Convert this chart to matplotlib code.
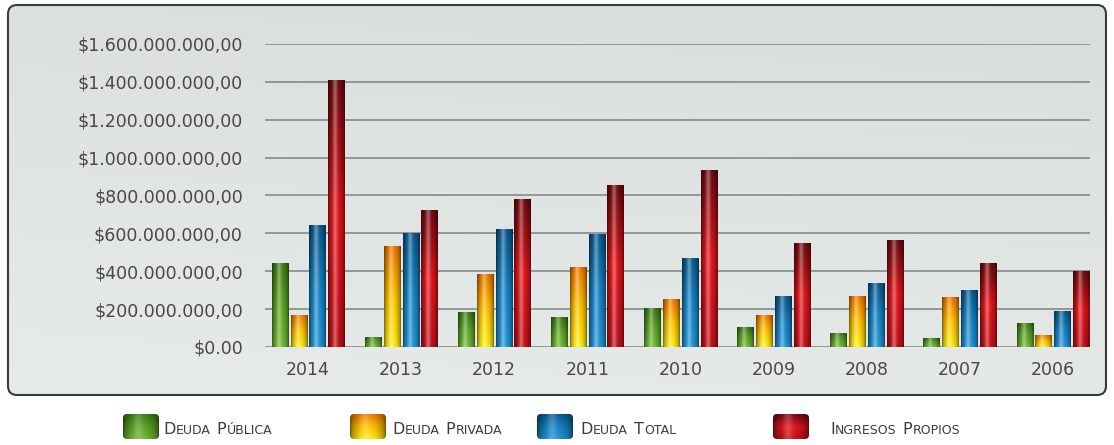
import numpy as np
import matplotlib
matplotlib.use("Agg")
import matplotlib.pyplot as plt
from matplotlib.patches import FancyBboxPatch
from matplotlib.colors import to_rgb
from matplotlib.ticker import FuncFormatter

years = ["2014", "2013", "2012", "2011", "2010", "2009", "2008", "2007", "2006"]
series_names = ["Deuda Pública", "Deuda Privada", "Deuda Total", "Ingresos Propios"]

deuda_publica = [443e6, 55e6, 185e6, 158e6, 206e6, 105e6, 74e6, 47e6, 127e6]
deuda_privada = [169e6, 533e6, 385e6, 422e6, 253e6, 169e6, 269e6, 264e6, 63e6]
deuda_total = [644e6, 602e6, 623e6, 596e6, 470e6, 269e6, 338e6, 301e6, 190e6]
ingresos_propios = [1409e6, 723e6, 781e6, 855e6, 934e6, 549e6, 565e6, 443e6, 401e6]

y_ticks = np.arange(0, 1.7e9, 2e8)

# colour stops per series, top -> middle -> bottom of a bar
stops = [
    ["#3d7a16", "#5ea326", "#72bb34"],
    ["#ee7800", "#ffc400", "#ffee10"],
    ["#0b5a8e", "#1683c4", "#2296d6"],
    ["#6e0b0f", "#e3151b", "#c2101a"],
]


def gradient_image(cols, rows=120, width=40, glow=0.35):
    cols = [np.array(to_rgb(c)) for c in cols]
    v = np.linspace(0, 1, rows)[:, None]
    top, mid, bot = cols
    vert = np.where(v < 0.5,
                    top * (1 - v / 0.5) + mid * (v / 0.5),
                    mid * (1 - (v - 0.5) / 0.5) + bot * ((v - 0.5) / 0.5))
    vert = vert.reshape(rows, 1, 3)
    u = np.linspace(0, 1, width)[None, :, None]
    shade = 0.45 + 0.55 * np.sin(np.pi * u) ** 0.6
    spec = glow * np.exp(-((u - 0.42) / 0.13) ** 2)
    img = vert * shade
    img = img + (1 - img) * spec
    return np.clip(img, 0, 1)


fig = plt.figure(figsize=(11.14, 4.45), dpi=100)

# background layer in pixel units
bg = fig.add_axes([0, 0, 1, 1])
bg.set_xlim(0, 1114)
bg.set_ylim(445, 0)
bg.axis("off")

panel = FancyBboxPatch((8, 5), 1098, 390, boxstyle="round,pad=0,rounding_size=9",
                       fc="#dde2e0", ec="none", zorder=1)
bg.add_patch(panel)
gx = np.linspace(0, 1, 200)[None, :]
gy = np.linspace(0, 1, 80)[:, None]
tone = 0.86 + 0.045 * gy - 0.01 * gx
panel_img = np.dstack([tone, tone + 0.018, tone + 0.01])
im = bg.imshow(np.clip(panel_img, 0, 1), extent=(8, 1106, 395, 5), aspect="auto",
               interpolation="bilinear", zorder=1.5)
im.set_clip_path(panel)
bg.add_patch(FancyBboxPatch((8, 5), 1098, 390, boxstyle="round,pad=0,rounding_size=9",
                            fc="none", ec="#3a3a3a", lw=1.5, zorder=2))

# chart area
ax = fig.add_axes([265 / 1114, (445 - 347) / 445, (1090 - 265) / 1114, (347 - 44) / 445])
ax.patch.set_alpha(0)

x = np.arange(len(years))
step = 0.202
width = 0.172
data = [deuda_publica, deuda_privada, deuda_total, ingresos_propios]
for k, vals in enumerate(data):
    bars = ax.bar(x + (k - 1.5) * step, vals, width=width, color="none", zorder=3)
    img = gradient_image(stops[k])
    for b in bars:
        x0, w, h = b.get_x(), b.get_width(), b.get_height()
        gi = ax.imshow(img, extent=(x0, x0 + w, 0, h), origin="upper", aspect="auto",
                       interpolation="bilinear", zorder=3)
        gi.set_clip_path(b)

ax.set_xlim(-0.462, 8.40)
ax.set_ylim(0, 1.6e9)
ax.set_yticks(y_ticks)


def peso(v, pos):
    if v == 0:
        return "$0.00"
    s = f"${v:,.2f}"
    return s.replace(",", "_").replace(".", ",").replace("_", ".")


ax.yaxis.set_major_formatter(FuncFormatter(peso))
ax.set_xticks(x)
ax.set_xticklabels(years)
ax.yaxis.grid(True, color="#848a8a", lw=1.2)
ax.set_axisbelow(True)
for s in ax.spines.values():
    s.set_visible(False)
ax.tick_params(axis="y", length=0, pad=16, labelsize=12.5, labelcolor="#474747")
ax.tick_params(axis="x", length=0, pad=10, labelsize=12.5, labelcolor="#474747")

# legend drawn beneath the panel
renderer = fig.canvas.get_renderer()


def small_caps(x0, y0, label, big=11.5, small=9.0, color="#3c3c3c"):
    xx = x0
    for word in label.split():
        t = bg.text(xx, y0, word[0].upper(), fontsize=big, va="baseline", color=color, zorder=5)
        xx = t.get_window_extent(renderer).x1 + 0.5
        if len(word) > 1:
            t = bg.text(xx, y0, word[1:].upper(), fontsize=small, va="baseline", color=color, zorder=5)
            xx = t.get_window_extent(renderer).x1
        xx += 6


legend_boxes = [(123, 163), (350, 392), (537, 580), (773, 830)]
for k, (bx, tx) in enumerate(legend_boxes):
    sq = FancyBboxPatch((bx, 414), 36, 25, boxstyle="round,pad=0,rounding_size=4",
                        fc="none", ec="none", zorder=4)
    bg.add_patch(sq)
    li = bg.imshow(gradient_image(stops[k], glow=0.2), extent=(bx, bx + 36, 439, 414),
                   aspect="auto", interpolation="bilinear", zorder=4)
    li.set_clip_path(sq)
    small_caps(tx, 434, series_names[k])

fig.savefig("out.png", dpi=100)
